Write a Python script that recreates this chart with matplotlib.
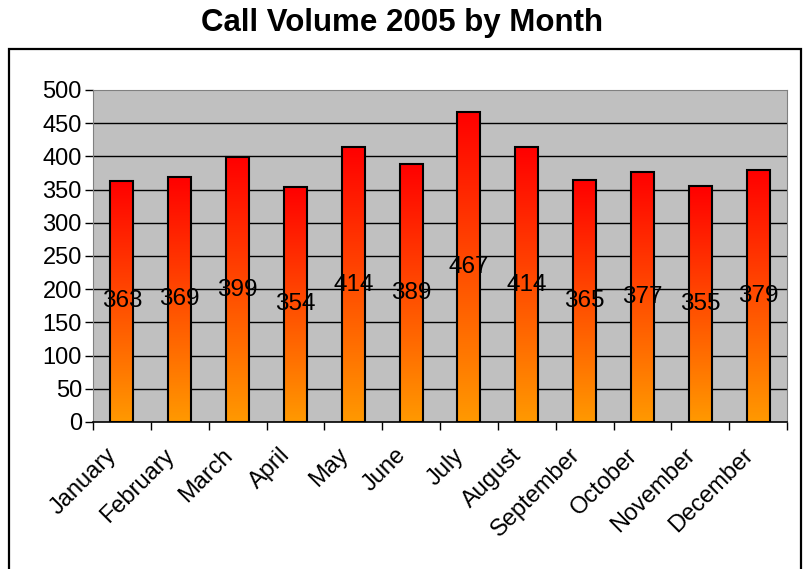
import numpy as np
import matplotlib.pyplot as plt
import matplotlib.transforms as mtransforms
from matplotlib.colors import LinearSegmentedColormap
from matplotlib.patches import Rectangle

plt.rcParams['font.family'] = ['Liberation Sans', 'DejaVu Sans']

months = ['January', 'February', 'March', 'April', 'May', 'June', 'July',
          'August', 'September', 'October', 'November', 'December']
calls = [363, 369, 399, 354, 414, 389, 467, 414, 365, 377, 355, 379]
yticks = [0, 50, 100, 150, 200, 250, 300, 350, 400, 450, 500]

fig = plt.figure(figsize=(8.05, 5.69), dpi=100)

# outer chart border
fig.patches.append(Rectangle((9 / 805, -0.01), 792 / 805, 1 - 49 / 569 + 0.01,
                             transform=fig.transFigure, fill=False,
                             edgecolor='black', linewidth=1.6))

ax = fig.add_axes([93 / 805, 147 / 569, 694 / 805, 332 / 569])
ax.set_facecolor('#C0C0C0')

for y in yticks[1:-1]:
    ax.axhline(y, color='black', linewidth=1, zorder=1)

cmap = LinearSegmentedColormap.from_list('grad', ['#FF9900', '#FF0000'])
grad = np.linspace(0, 1, 256).reshape(-1, 1)
x = np.arange(len(months))
bars = ax.bar(x, calls, width=0.4, color='none', edgecolor='black', linewidth=1.5, zorder=3)
for b in bars:
    x0, w, h = b.get_x(), b.get_width(), b.get_height()
    im = ax.imshow(grad, cmap=cmap, origin='lower', aspect='auto',
                   extent=[x0, x0 + w, 0, h], zorder=2)
    im.set_clip_path(b)
    ax.text(x0 + w / 2, h / 2, str(h), ha='center', va='center', fontsize=17.5, zorder=4)

ax.set_xlim(-0.5, 11.5)
ax.set_ylim(0, 500)

ax.set_yticks(yticks)
ax.tick_params(axis='y', labelsize=17, length=6, width=1, direction='out', pad=2)
ax.set_xticks(x)
ax.set_xticklabels(months, rotation=45, ha='right', rotation_mode='anchor', fontsize=17)
ax.tick_params(axis='x', which='major', length=0, pad=16)
ax.set_xticks(np.arange(-0.5, 12, 1), minor=True)
ax.tick_params(axis='x', which='minor', length=6, width=1, direction='out')
shift = mtransforms.ScaledTranslation(-16 / 100, 0, fig.dpi_scale_trans)
for lbl in ax.get_xticklabels():
    lbl.set_transform(lbl.get_transform() + shift)

for s in ['top', 'right', 'left']:
    ax.spines[s].set_color('#808080')
ax.spines['bottom'].set_color('black')
ax.spines['bottom'].set_linewidth(1.2)

fig.text(0.5, 1 - 23 / 569, 'Call Volume 2005 by Month', ha='center', va='center',
         fontsize=22.5, fontweight='bold')

fig.savefig('out.png', dpi=100)
